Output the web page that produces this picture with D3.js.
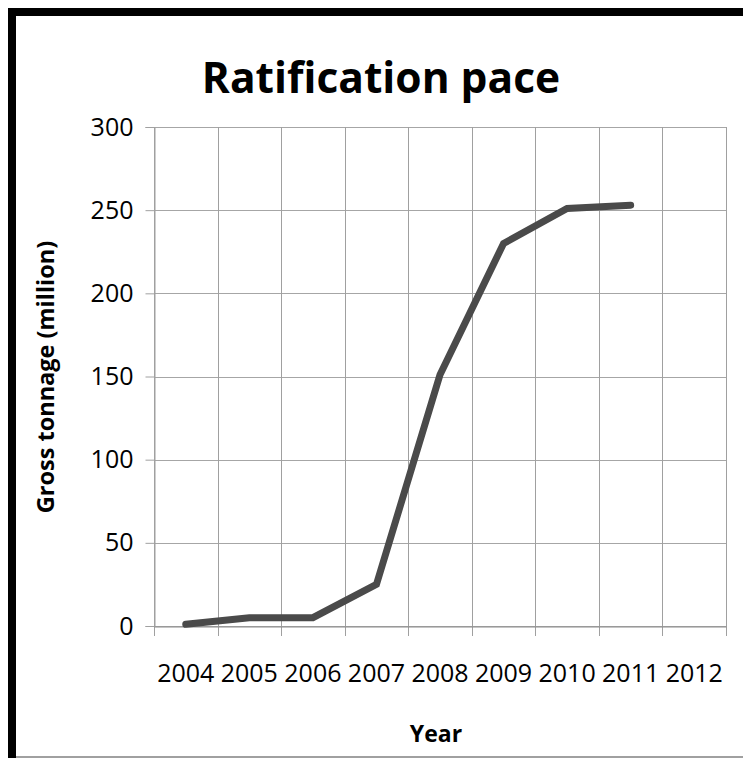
<!DOCTYPE html>
<html>
<head>
<meta charset="utf-8">
<script src="https://cdn.jsdelivr.net/npm/d3@7"></script>
<style>
  html, body { margin: 0; padding: 0; background: #fff; }
  svg { display: block; }
  text { font-family: "Open Sans", "Noto Sans", sans-serif; fill: #000; }
</style>
</head>
<body>
<script>
// Years on the category axis
const years = ["2004", "2005", "2006", "2007", "2008", "2009", "2010", "2011", "2012"];
// Cumulative ratified gross tonnage (million) per year; no value yet for 2012
const tonnage = [1, 5, 5, 25, 151, 230, 251, 253, null];
// Value axis ticks
const yTicks = [0, 50, 100, 150, 200, 250, 300];

const W = 743, H = 758;
const margin = { left: 154, top: 127, right: 17, bottom: 132 };

const svg = d3.select("body").append("svg")
  .attr("width", W).attr("height", H);

// Frame: heavy black top and left edges, thin grey bottom edge
svg.append("rect").attr("x", 8).attr("y", 8).attr("width", W - 8).attr("height", 8).attr("fill", "#000");
svg.append("rect").attr("x", 8).attr("y", 8).attr("width", 8).attr("height", H - 8).attr("fill", "#000");
svg.append("line").attr("x1", 16).attr("x2", W).attr("y1", 757).attr("y2", 757)
  .attr("stroke", "#808080").attr("stroke-width", 1.5);

const x0 = margin.left, x1 = W - margin.right;
const y0 = H - margin.bottom, y1 = margin.top;

const x = d3.scaleBand().domain(years).range([x0, x1]).paddingInner(0).paddingOuter(0);
const y = d3.scaleLinear().domain([0, 300]).range([y0, y1]);

const g = svg.append("g");

// Horizontal gridlines
g.append("g").selectAll("line").data(yTicks).join("line")
  .attr("x1", x0).attr("x2", x1)
  .attr("y1", d => Math.round(y(d)) + 0.5).attr("y2", d => Math.round(y(d)) + 0.5)
  .attr("stroke", "#a6a6a6").attr("stroke-width", 1);

// Vertical gridlines at category boundaries, with ticks below the axis
const bounds = years.map(d => x(d)).concat([x1]);
g.append("g").selectAll("line").data(bounds).join("line")
  .attr("x1", d => Math.round(d) + 0.5).attr("x2", d => Math.round(d) + 0.5)
  .attr("y1", y1).attr("y2", y0 + 10)
  .attr("stroke", "#a0a0a0").attr("stroke-width", 1);

// Left axis with outward ticks
const yAxis = g.append("g")
  .attr("transform", `translate(${x0 + 0.5},0)`)
  .call(d3.axisLeft(y).tickValues(yTicks).tickSize(9).tickPadding(12));
yAxis.select(".domain").attr("stroke", "#a0a0a0");
yAxis.selectAll(".tick line").attr("stroke", "#a0a0a0");
yAxis.selectAll(".tick text").attr("font-size", 25).attr("font-family", "Open Sans");

// Bottom axis labels
const xAxis = g.append("g")
  .attr("transform", `translate(0,${y0 + 0.5})`)
  .call(d3.axisBottom(x).tickSize(0).tickPadding(38));
xAxis.select(".domain").attr("stroke", "#8c8c8c");
xAxis.selectAll(".tick text").attr("font-size", 25).attr("font-family", "Open Sans");

// Data line
const line = d3.line()
  .defined(d => d.v !== null)
  .x(d => x(d.year) + x.bandwidth() / 2)
  .y(d => y(d.v));

g.append("path")
  .datum(years.map((yr, i) => ({ year: yr, v: tonnage[i] })))
  .attr("d", line)
  .attr("fill", "none")
  .attr("stroke", "#4a4a4a")
  .attr("stroke-width", 7)
  .attr("stroke-linecap", "round")
  .attr("stroke-linejoin", "miter");

// Title
svg.append("text")
  .attr("x", 381).attr("y", 93)
  .attr("text-anchor", "middle")
  .attr("font-size", 42.5).attr("font-weight", "bold")
  .text("Ratification pace");

// Axis titles
svg.append("text")
  .attr("transform", "translate(54,377) rotate(-90)")
  .attr("text-anchor", "middle")
  .attr("font-size", 23.5).attr("font-weight", "bold")
  .text("Gross tonnage (million)");

svg.append("text")
  .attr("x", 436).attr("y", 742)
  .attr("text-anchor", "middle")
  .attr("font-size", 23).attr("font-weight", "bold")
  .text("Year");
</script>
</body>
</html>
